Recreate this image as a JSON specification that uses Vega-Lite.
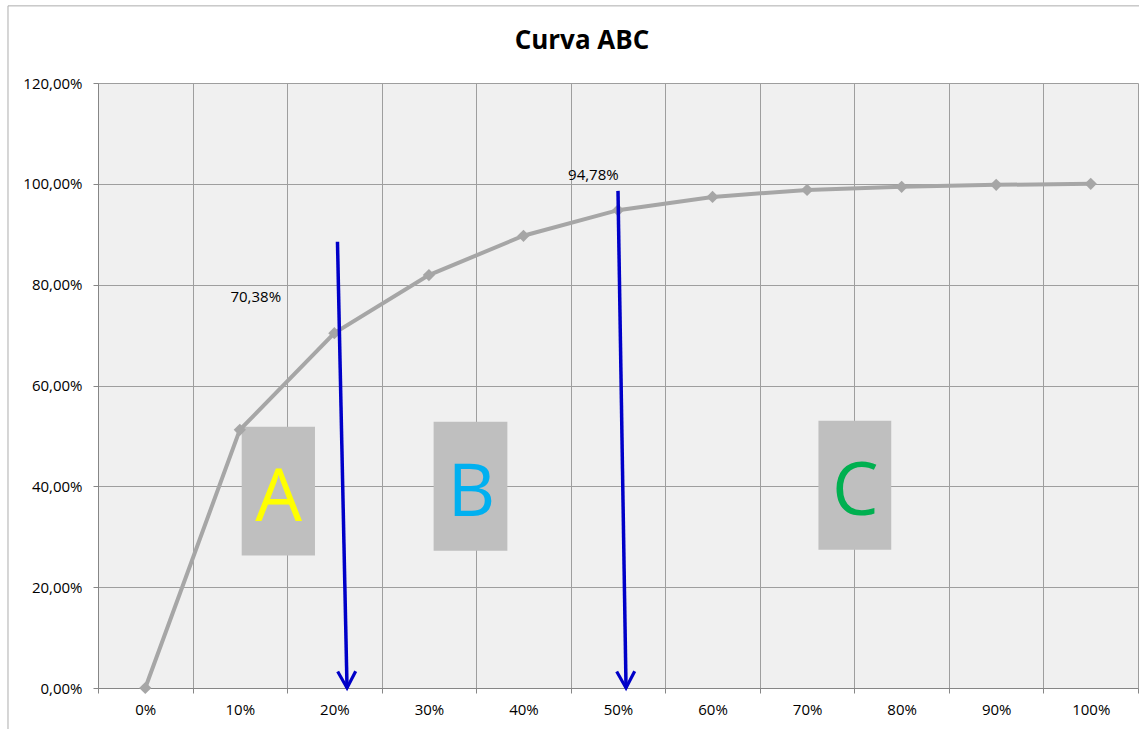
{
  "$schema": "https://vega.github.io/schema/vega-lite/v6.json",
  "autosize": "none",
  "width": 1040,
  "height": 605,
  "padding": {"left": 98, "top": 83, "right": 1, "bottom": 41},
  "background": "white",
  "title": {
    "text": "Curva ABC",
    "font": "Open Sans",
    "fontSize": 26,
    "fontWeight": "bold",
    "color": "black",
    "anchor": "middle",
    "frame": "group",
    "baseline": "alphabetic",
    "dx": -36,
    "dy": 69.5,
    "offset": 0
  },
  "config": {
    "view": {"fill": "#F0F0F0", "stroke": null},
    "font": "Open Sans"
  },
  "datasets": {
    "curve": [
      {"pct": 0, "acc": 0},
      {"pct": 10, "acc": 51.2},
      {"pct": 20, "acc": 70.38},
      {"pct": 30, "acc": 81.9},
      {"pct": 40, "acc": 89.7},
      {"pct": 50, "acc": 94.78},
      {"pct": 60, "acc": 97.4},
      {"pct": 70, "acc": 98.8},
      {"pct": 80, "acc": 99.4},
      {"pct": 90, "acc": 99.8},
      {"pct": 100, "acc": 100}
    ],
    "boxes": [
      {"cls": "A", "x1": 10.2, "x2": 17.95, "y1": 26.3, "y2": 51.8, "tx": 14.1, "ty": 33.1},
      {"cls": "B", "x1": 30.5, "x2": 38.3, "y1": 27.2, "y2": 52.8, "tx": 34.5, "ty": 34.1},
      {"cls": "C", "x1": 71.2, "x2": 78.9, "y1": 27.4, "y2": 53.0, "tx": 75.1, "ty": 34.3}
    ],
    "arrows": [
      {"x1": 20.33, "y1": 88.5, "x2": 21.34, "y2": 0},
      {"x1": 50.0, "y1": 98.6, "x2": 50.85, "y2": 0}
    ],
    "labels": [
      {"text": "70,38%", "lx": 14.36, "ly": 76.65},
      {"text": "94,78%", "lx": 50.07, "ly": 100.8}
    ]
  },
  "layer": [
    {
      "data": {"name": "boxes"},
      "mark": {"type": "rect", "color": "#BFBFBF"},
      "encoding": {
        "x": {
          "field": "x1", "type": "quantitative", "title": null,
          "scale": {"domain": [-5, 105], "nice": false, "zero": false},
          "axis": {
            "values": [-5, 0, 5, 10, 15, 20, 25, 30, 35, 40, 45, 50, 55, 60, 65, 70, 75, 80, 85, 90, 95, 100, 105],
            "labelExpr": "datum.value % 10 === 0 ? datum.value + '%' : ''",
            "labelOverlap": false,
            "labelFlush": false,
            "labelBound": false,
            "labelFontSize": 15,
            "labelColor": "black",
            "labelPadding": 9,
            "grid": true,
            "gridColor": "#9E9E9E",
            "gridWidth": 1,
            "gridOpacity": {"condition": {"test": "datum.value % 10 === 0", "value": 0}, "value": 1},
            "tickOpacity": {"condition": {"test": "datum.value % 10 === 0", "value": 0}, "value": 1},
            "tickColor": "#868686",
            "tickSize": 5,
            "domainColor": "#868686"
          }
        },
        "x2": {"field": "x2"},
        "y": {
          "field": "y1", "type": "quantitative", "title": null,
          "scale": {"domain": [0, 120], "nice": false, "zero": false},
          "axis": {
            "values": [0, 20, 40, 60, 80, 100, 120],
            "labelExpr": "replace(format(datum.value, '.2f'), '.', ',') + '%'",
            "labelFontSize": 15,
            "labelColor": "black",
            "labelPadding": 11,
            "grid": true,
            "gridColor": "#9E9E9E",
            "gridWidth": 1,
            "tickColor": "#868686",
            "tickSize": 5,
            "domainColor": "#868686"
          }
        },
        "y2": {"field": "y2"}
      }
    },
    {
      "data": {"name": "boxes"},
      "mark": {"type": "text", "font": "Open Sans", "fontSize": 74, "align": "center", "baseline": "alphabetic"},
      "encoding": {
        "x": {"field": "tx", "type": "quantitative", "title": null, "scale": {"domain": [-5, 105], "nice": false, "zero": false}},
        "y": {"field": "ty", "type": "quantitative", "title": null, "scale": {"domain": [0, 120], "nice": false, "zero": false}},
        "text": {"field": "cls"},
        "color": {
          "field": "cls", "type": "nominal", "legend": null,
          "scale": {"domain": ["A", "B", "C"], "range": ["#FFFF00", "#00B0F0", "#00B050"]}
        }
      }
    },
    {
      "data": {"name": "curve"},
      "mark": {
        "type": "line",
        "color": "#A6A6A6",
        "strokeWidth": 4,
        "point": {"shape": "diamond", "size": 150, "filled": true, "color": "#A6A6A6", "opacity": 1}
      },
      "encoding": {
        "x": {"field": "pct", "type": "quantitative", "title": null, "scale": {"domain": [-5, 105], "nice": false, "zero": false}},
        "y": {"field": "acc", "type": "quantitative", "title": null, "scale": {"domain": [0, 120], "nice": false, "zero": false}}
      }
    },
    {
      "data": {"name": "arrows"},
      "mark": {"type": "rule", "color": "#0000C8", "strokeWidth": 3.5},
      "encoding": {
        "x": {"field": "x1", "type": "quantitative", "title": null, "scale": {"domain": [-5, 105], "nice": false, "zero": false}},
        "y": {"field": "y1", "type": "quantitative", "title": null, "scale": {"domain": [0, 120], "nice": false, "zero": false}},
        "x2": {"field": "x2"},
        "y2": {"field": "y2"}
      }
    },
    {
      "data": {"name": "arrows"},
      "mark": {
        "type": "point",
        "shape": "M-1,-1.85L0,0L1,-1.85",
        "size": 324,
        "filled": false,
        "stroke": "#0000C8",
        "strokeWidth": 3.2,
        "opacity": 1,
        "angle": -1.2
      },
      "encoding": {
        "x": {"field": "x2", "type": "quantitative", "title": null, "scale": {"domain": [-5, 105], "nice": false, "zero": false}},
        "y": {"field": "y2", "type": "quantitative", "title": null, "scale": {"domain": [0, 120], "nice": false, "zero": false}}
      }
    },
    {
      "data": {"name": "labels"},
      "mark": {"type": "text", "font": "Open Sans", "fontSize": 15, "align": "right", "baseline": "alphabetic", "color": "black"},
      "encoding": {
        "x": {"field": "lx", "type": "quantitative", "title": null, "scale": {"domain": [-5, 105], "nice": false, "zero": false}},
        "y": {"field": "ly", "type": "quantitative", "title": null, "scale": {"domain": [0, 120], "nice": false, "zero": false}},
        "text": {"field": "text"}
      }
    },
    {
      "data": {"values": [{}]},
      "mark": {"type": "rule", "color": "#ADADAD", "strokeWidth": 1},
      "encoding": {
        "x": {"datum": -14.52, "type": "quantitative", "scale": {"domain": [-5, 105], "nice": false, "zero": false}},
        "y": {"datum": 135.3, "type": "quantitative", "scale": {"domain": [0, 120], "nice": false, "zero": false}},
        "y2": {"datum": -12}
      }
    },
    {
      "data": {"values": [{}]},
      "mark": {"type": "rule", "color": "#ADADAD", "strokeWidth": 1},
      "encoding": {
        "x": {"datum": -14.52, "type": "quantitative", "scale": {"domain": [-5, 105], "nice": false, "zero": false}},
        "x2": {"datum": 115},
        "y": {"datum": 135.3, "type": "quantitative", "scale": {"domain": [0, 120], "nice": false, "zero": false}}
      }
    }
  ]
}
